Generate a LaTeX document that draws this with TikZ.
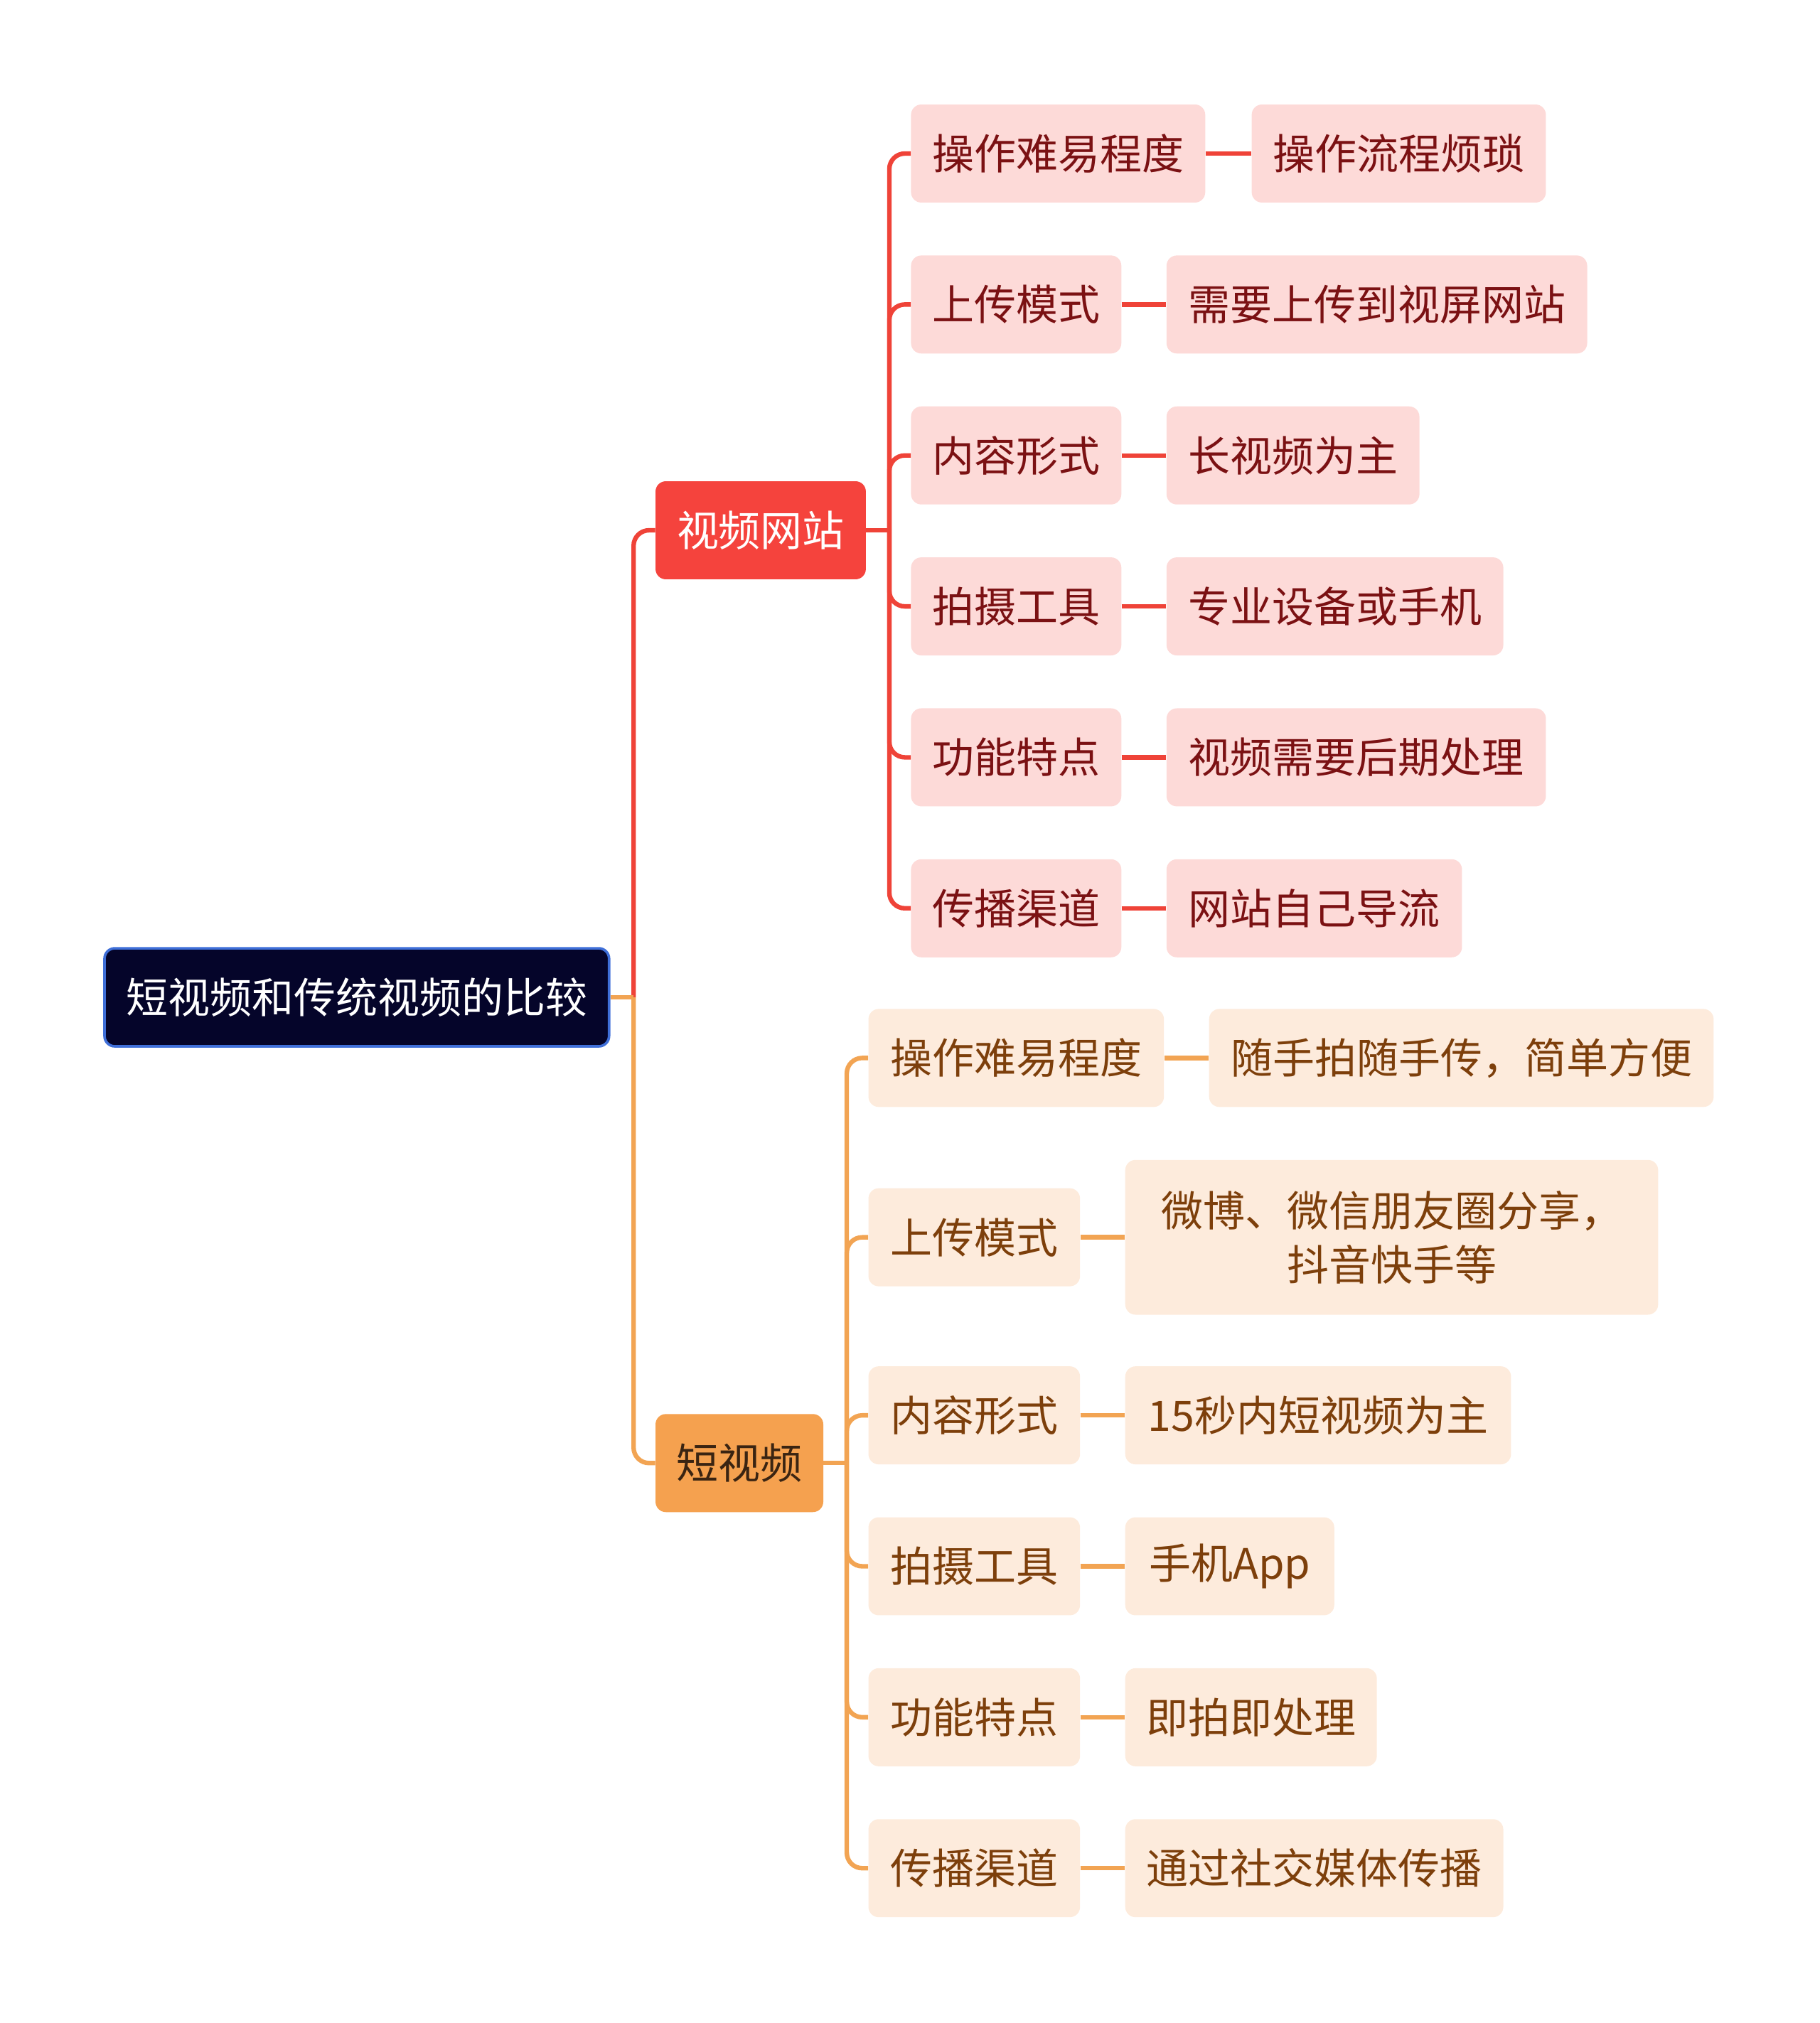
\documentclass[tikz,border=0pt]{standalone}
\usepackage{fontspec}
\setmainfont{Noto Sans CJK SC}
\definecolor{rootfill}{HTML}{05052A}
\definecolor{rootline}{HTML}{3F6FD8}
\definecolor{redfill}{HTML}{F5433D}
\definecolor{redline}{HTML}{EF4338}
\definecolor{pinkfill}{HTML}{FDDAD8}
\definecolor{redtext}{HTML}{7B1113}
\definecolor{orfill}{HTML}{F5A14F}
\definecolor{orline}{HTML}{F2A453}
\definecolor{peachfill}{HTML}{FDEBDC}
\definecolor{browntext}{HTML}{7D3F0B}
\definecolor{darktext}{HTML}{3A2412}
\begin{document}
\begin{tikzpicture}[x=1pt,y=-1pt,
  box/.style={rounded corners=8pt, inner sep=0pt, minimum height=76pt, align=center,
    font=\fontsize{32.5}{42}\selectfont},
  rootbox/.style={box, fill=rootfill, draw=rootline, line width=2pt, text=white},
  redbranch/.style={box, fill=redfill, text=white},
  orbranch/.style={box, fill=orfill, text=darktext},
  redbox/.style={box, fill=pinkfill, text=redtext},
  orbox/.style={box, fill=peachfill, text=browntext},
  rline/.style={draw=redline, line width=3.5pt},
  oline/.style={draw=orline, line width=3.5pt},
  elbow/.style={rounded corners=12pt}
]
\useasboundingbox (0,0) rectangle (1410,1568);

% root and branches
\node[rootbox, minimum width=391pt] (root) at (276.5,773) {短视频和传统视频的比较};
\node[redbranch, minimum width=163pt] (b1) at (589.5,411) {视频网站};
\node[orbranch, minimum width=130pt] (b2) at (573,1134) {短视频};

% red children
\node[redbox, minimum width=228pt] (r1) at (820,119) {操作难易程度};
\node[redbox, minimum width=163pt] (r2) at (787.5,236) {上传模式};
\node[redbox, minimum width=163pt] (r3) at (787.5,353) {内容形式};
\node[redbox, minimum width=163pt] (r4) at (787.5,470) {拍摄工具};
\node[redbox, minimum width=163pt] (r5) at (787.5,587) {功能特点};
\node[redbox, minimum width=163pt] (r6) at (787.5,704) {传播渠道};

% red leaves
\node[redbox, minimum width=228pt] (rl1) at (1084,119) {操作流程烦琐};
\node[redbox, minimum width=326pt] (rl2) at (1067,236) {需要上传到视屏网站};
\node[redbox, minimum width=196pt] (rl3) at (1002,353) {长视频为主};
\node[redbox, minimum width=261pt] (rl4) at (1034.5,470) {专业设备或手机};
\node[redbox, minimum width=294pt] (rl5) at (1051,587) {视频需要后期处理};
\node[redbox, minimum width=229pt] (rl6) at (1018.5,704) {网站自己导流};

% orange children
\node[orbox, minimum width=229pt] (o1) at (787.5,820) {操作难易程度};
\node[orbox, minimum width=164pt] (o2) at (755,959) {上传模式};
\node[orbox, minimum width=164pt] (o3) at (755,1097) {内容形式};
\node[orbox, minimum width=164pt] (o4) at (755,1214) {拍摄工具};
\node[orbox, minimum width=164pt] (o5) at (755,1331) {功能特点};
\node[orbox, minimum width=164pt] (o6) at (755,1448) {传播渠道};

% orange leaves
\node[orbox, minimum width=391pt] (ol1) at (1132.5,820) {随手拍随手传，简单方便};
\node[orbox, minimum width=413pt, minimum height=120pt] (ol2) at (1078.5,959) {微博、微信朋友圈分享，\\抖音快手等};
\node[orbox, minimum width=299pt] (ol3) at (1021.5,1097) {15秒内短视频为主};
\node[orbox, minimum width=162pt] (ol4) at (953,1214) {手机App};
\node[orbox, minimum width=195pt] (ol5) at (969.5,1331) {即拍即处理};
\node[orbox, minimum width=293pt] (ol6) at (1018.5,1448) {通过社交媒体传播};

% junction points
\path (root.east) -- ++(18,0) coordinate (j0);
\path (b1.east) -- ++(18,0) coordinate (j1);
\path (b2.east) -- ++(18,0) coordinate (j2);

% root connectors
\draw[rline, elbow] (j0) |- (b1.west);
\draw[oline, elbow] (j0) |- (b2.west);
\draw[oline] (root.east) -- (j0);

% branch 1 connectors
\draw[rline] (b1.east) -- (j1);
\foreach \c in {r1,r2,r3,r4,r5,r6} { \draw[rline, elbow] (j1) |- (\c.west); }
\draw[rline] (r1) -- (rl1);
\draw[rline] (r2) -- (rl2);
\draw[rline] (r3) -- (rl3);
\draw[rline] (r4) -- (rl4);
\draw[rline] (r5) -- (rl5);
\draw[rline] (r6) -- (rl6);

% branch 2 connectors
\draw[oline] (b2.east) -- (j2);
\foreach \c in {o1,o2,o3,o4,o5,o6} { \draw[oline, elbow] (j2) |- (\c.west); }
\draw[oline] (o1) -- (ol1);
\draw[oline] (o2) -- (ol2);
\draw[oline] (o3) -- (ol3);
\draw[oline] (o4) -- (ol4);
\draw[oline] (o5) -- (ol5);
\draw[oline] (o6) -- (ol6);
\end{tikzpicture}
\end{document}
